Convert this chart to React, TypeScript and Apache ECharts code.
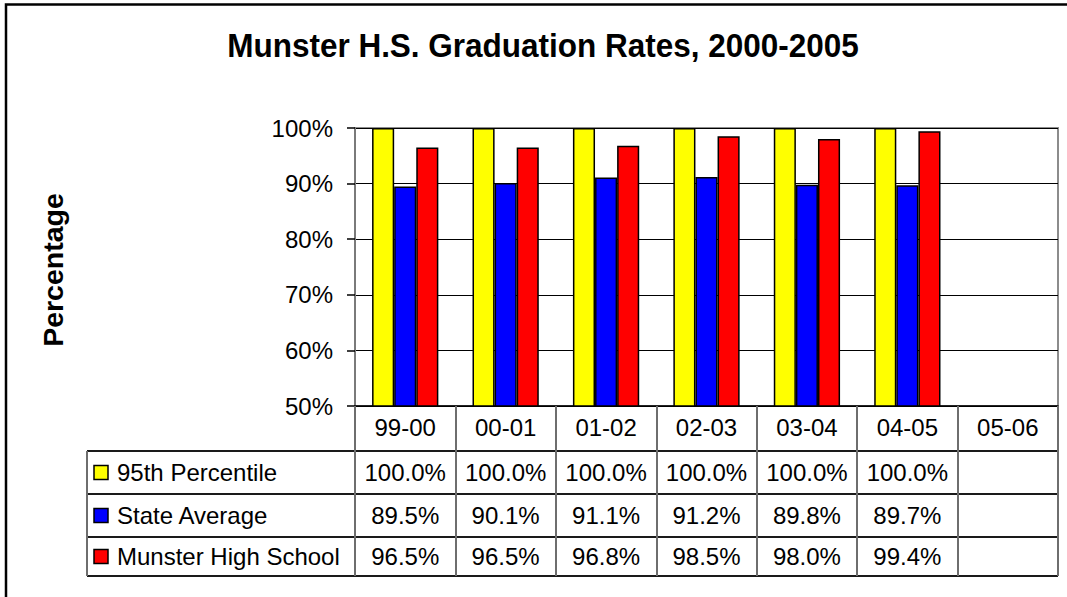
import React, { useEffect, useRef } from "react";
import * as echarts from "echarts";

const categories = ["99-00", "00-01", "01-02", "02-03", "03-04", "04-05", "05-06"];
const seriesNames = ["95th Percentile", "State Average", "Munster High School"];
const pct95: (number | null)[] = [100, 100, 100, 100, 100, 100, null];
const stateAvg: (number | null)[] = [89.5, 90.1, 91.1, 91.2, 89.8, 89.7, null];
const munster: (number | null)[] = [96.5, 96.5, 96.8, 98.5, 98.0, 99.4, null];
const seriesColors = ["#FFFF00", "#0000FF", "#FF0000"];
const yMin = 50;
const yMax = 100;
const yInterval = 10;
const titleText = "Munster H.S. Graduation Rates, 2000-2005";
const yTitle = "Percentage";

const FONT = "'Liberation Sans', Arial, sans-serif";

export default function App() {
  const ref = useRef<HTMLDivElement>(null);

  useEffect(() => {
    if (!ref.current) return;
    const chart = echarts.init(ref.current, null, { renderer: "svg" });
    const allData = [pct95, stateAvg, munster];

    const gridLeft = 355;
    const gridTop = 128;
    const gridRight = 9;
    const gridBottomY = 406;
    const H = 597;
    const W = 1067;
    const headerBottom = 451;
    const rowBounds = [451, 494, 537, 576];

    chart.setOption({
      animation: false,
      backgroundColor: "#ffffff",
      grid: {
        left: gridLeft,
        top: gridTop,
        right: gridRight,
        bottom: H - gridBottomY,
        show: true,
        borderColor: "#8c8c8c",
        borderWidth: 2,
        backgroundColor: "#ffffff",
      },
      xAxis: {
        type: "category",
        data: categories,
        boundaryGap: true,
        axisLine: { show: true, lineStyle: { color: "#000", width: 1.5 } },
        axisTick: {
          show: true,
          interval: 0,
          length: rowBounds[3] - gridBottomY,
          lineStyle: { color: "#6e6e6e", width: 2 },
        },
        axisLabel: {
          interval: 0,
          color: "#000",
          fontSize: 24,
          fontFamily: FONT,
          margin: 9,
        },
        splitLine: { show: false },
      },
      yAxis: {
        type: "value",
        min: yMin,
        max: yMax,
        interval: yInterval,
        axisLine: { show: true, lineStyle: { color: "#7a7a7a", width: 2 } },
        axisTick: { show: true, length: 8, lineStyle: { color: "#000", width: 1.5 } },
        axisLabel: {
          color: "#000",
          fontSize: 24,
          fontFamily: FONT,
          margin: 22,
          formatter: "{value}%",
        },
        splitLine: { show: true, lineStyle: { color: "#000", width: 1.2 } },
      },
      series: seriesNames.map((name, i) => ({
        name,
        type: "bar",
        data: allData[i],
        barGap: "0%",
        barCategoryGap: "34%",
        itemStyle: { color: seriesColors[i], borderColor: "#000", borderWidth: 1.5 },
      })),
    });

    const cx = categories.map((c) => chart.convertToPixel({ xAxisIndex: 0 }, c) as number);
    const step = cx[1] - cx[0];
    const tableRight = cx[cx.length - 1] + step / 2;
    const tableLeft = 87;

    const graphics: any[] = [];
    graphics.push({
      type: "rect",
      shape: { x: 6, y: 4.5, width: W + 60, height: H + 60 },
      style: { fill: "none", stroke: "#000", lineWidth: 2.5 },
      silent: true,
    });
    graphics.push({
      type: "text",
      x: 543,
      y: 46,
      scaleY: 1.06,
      style: {
        text: titleText,
        fill: "#000",
        fontSize: 31.5,
        fontWeight: "bold",
        fontFamily: FONT,
        textAlign: "center",
        textVerticalAlign: "middle",
      },
    });
    graphics.push({
      type: "text",
      x: 53,
      y: 270,
      rotation: Math.PI / 2,
      style: {
        text: yTitle,
        fill: "#000",
        fontSize: 28.5,
        fontWeight: "bold",
        fontFamily: FONT,
        textAlign: "center",
        textVerticalAlign: "middle",
      },
    });
    rowBounds.forEach((y) => {
      graphics.push({
        type: "line",
        shape: { x1: tableLeft, y1: y, x2: tableRight, y2: y },
        style: { stroke: "#1a1a1a", lineWidth: 2 },
      });
    });
    graphics.push({
      type: "line",
      shape: { x1: tableLeft, y1: headerBottom, x2: tableLeft, y2: rowBounds[3] },
      style: { stroke: "#6e6e6e", lineWidth: 2 },
    });
    seriesNames.forEach((name, r) => {
      const yc = (rowBounds[r] + rowBounds[r + 1]) / 2;
      graphics.push({
        type: "rect",
        shape: { x: 94, y: yc - 7, width: 14, height: 14 },
        style: { fill: seriesColors[r], stroke: "#000", lineWidth: 1.5 },
      });
      graphics.push({
        type: "text",
        x: 117,
        y: yc,
        style: {
          text: name,
          fill: "#000",
          fontSize: 24,
          fontFamily: FONT,
          textAlign: "left",
          textVerticalAlign: "middle",
        },
      });
      allData[r].forEach((v, i) => {
        if (v == null) return;
        graphics.push({
          type: "text",
          x: cx[i],
          y: yc,
          style: {
            text: v.toFixed(1) + "%",
            fill: "#000",
            fontSize: 24,
            fontFamily: FONT,
            textAlign: "center",
            textVerticalAlign: "middle",
          },
        });
      });
    });

    chart.setOption({ graphic: graphics });

    return () => chart.dispose();
  }, []);

  return (
    <div
      ref={ref}
      style={{ position: "absolute", left: 0, top: 0, width: 1067, height: 597, background: "#fff" }}
    />
  );
}
